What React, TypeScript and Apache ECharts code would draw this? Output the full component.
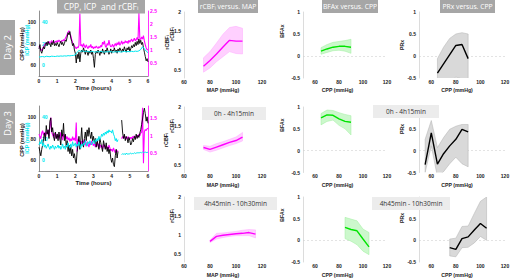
import React, { useEffect, useRef } from 'react';
import * as echarts from 'echarts';

// ---------------- Time series (sampled every 0.05 h) ----------------
const SAMPLE_H = 0.05;
const ICP_DAY2_SAMPLE_H = 0.1;

const cppDay2 = [
  75, 79, 73, 71, 74, 77, 75, 79, 81, 78, 82, 79, 80, 77, 81, 79, 83, 78, 80, 78,
  81, 79, 77, 80, 82, 79, 81, 78, 80, 83, 82, 86, 90, 88, 91, 85, 82, 78, 80, 74,
  71, 62, 70, 66, 72, 63, 71, 74, 72, 76, 73, 70, 74, 72, 69, 73, 71, 74, 70, 72,
  66, 58, 70, 73, 71, 74, 72, 69, 73, 71, 75, 72, 70, 74, 72, 76, 73, 70, 72, 75,
  71, 74, 73, 76, 72, 74, 71, 75, 73, 76, 74, 72, 75, 73, 77, 74, 72, 76, 74, 77,
  73, 75, 78, 76, 79, 77, 81, 78, 82, 79, 84, 80, 83, 79, 81, 76, 72, 68, 64, 66,
  63,
];
const rcbfDay2 = [
  1.15, 1.08, 1.02, 0.98, 1.05, 1.12, 1.18, 1.25, 1.22, 1.30, 1.27, 1.33, 1.25, 1.30, 1.36, 1.28, 1.32, 1.26, 1.34, 1.30,
  1.36, 1.31, 1.38, 1.33, 1.29, 1.37, 1.34, 1.40, 1.35, 1.45, 1.52, 1.60, 1.68, 1.74, 1.62, 1.55, 1.40, 1.28, 1.22, 1.15,
  1.10, 1.05, 1.12, 1.08, 1.18, 2.40, 1.15, 1.22, 1.10, 1.25, 1.15, 1.08, 1.20, 1.12, 1.05, 1.16, 1.10, 1.22, 1.08, 1.14,
  1.05, 1.12, 1.08, 1.15, 1.10, 1.06, 1.13, 1.08, 1.18, 1.12, 1.30, 1.22, 1.35, 1.15, 1.10, 1.25, 1.18, 1.38, 1.20, 1.12,
  1.15, 1.22, 1.10, 1.18, 1.25, 1.15, 1.28, 1.20, 1.32, 1.18, 1.25, 1.35, 1.22, 1.30, 1.26, 1.36, 1.28, 1.34, 1.25, 1.38,
  1.30, 1.36, 1.42, 1.32, 1.38, 1.45, 1.35, 1.40, 1.48, 1.38, 2.42, 1.45, 1.40, 1.50, 1.42, 1.55, 1.35, 1.20, 1.08, 1.02,
  1.0,
];
const icpDay2 = [
  7.5, 7.8, 8.0, 7.6, 8.2, 8.0, 7.8, 8.3, 8.1, 8.0,
  8.4, 8.2, 8.5, 8.3, 8.6, 8.4, 8.8, 8.6, 8.9, 9.0,
  9.5, 12.0, 13.5, 12.8, 13.2, 12.5, 13.0, 12.6, 12.2, 12.8,
  12.4, 12.0, 12.6, 12.2, 12.8, 12.3, 12.0, 12.5, 12.2, 12.7,
  12.3, 12.0, 12.5, 12.2, 12.6, 12.1, 12.4, 12.8, 12.3, 12.6,
  12.4, 12.8, 12.5, 13.0, 12.7, 13.2, 14.5, 17.0, 15.0, 13.0,
  11.5,
];

const cppDay3 = [
  72, 68, 64, 70, 74, 80, 85, 78, 92, 84, 88, 80, 96, 99, 86, 90, 82, 78, 86, 80,
  84, 78, 86, 80, 74, 88, 82, 94, 78, 84, 72, 78, 68, 74, 66, 72, 64, 70, 62, 66,
  60, 57, 68, 74, 82, 70, 78, 90, 76, 72, 80, 86, 78, 88, 82, 90, 84, 80, 86, 78,
  82, 76, 80, 72, 78, 74, 70, 80, 76, 72, 68, 78, 74, 70, 76, 68, 72, 66, 70, 62,
  58, 62, 56, 54, 64, 70, 62, 68, null, null, null, 97, 86, 80, 84, 78, 82, 80, 76, 81,
  78, 74, 76, 80, 77, 82, 79, 84, 80, 83, 81, 85, 88, 93, 98, 104, 108, 103, 96, 100,
  94,
];
const rcbfDay3 = [
  1.05, 0.98, 0.92, 1.08, 1.15, 1.02, 1.10, 0.95, 1.12, 1.05, 1.18, 1.00, 1.25, 1.52, 1.10, 1.04, 0.96, 1.08, 1.00, 0.92,
  1.06, 0.95, 1.02, 0.90, 1.10, 0.98, 0.88, 1.05, 0.96, 1.02, 0.92, 0.98, 0.88, 0.95, 0.84, 0.92, 0.86, 0.98, 0.88, 0.94,
  0.85, 1.38, 0.55, 0.92, 0.80, 0.88, 0.75, 0.85, 0.72, 0.82, 0.90, 0.78, 0.70, 0.84, 0.76, 0.68, 0.82, 0.74, 0.86, 0.78,
  0.72, 0.80, 0.68, 0.76, 0.84, 0.70, 0.78, 0.66, 0.74, 0.70, 0.62, 0.76, 0.68, 0.72, 0.64, 0.70, 0.60, 0.74, 0.66, 0.58,
  0.62, 0.55, 0.66, 0.58, 0.52, 0.60, 0.55, 0.58, null, null, null, 0.92, 0.98, 0.94, 1.00, 0.92, 0.96, 0.90, 0.98, 0.94,
  0.90, 0.96, 0.92, 0.98, 0.95, 1.00, 0.93, 0.97, 1.02, 0.96, 1.05, 1.00, 1.08, 1.10, 1.80, 0.22, 1.12, 1.18, 1.15, 1.20,
  1.22,
];
const icpDay3 = [
  14, 17, 15, 19, 13, 16, 12, 14, 11, 13, 15, 12, 10, 13, 11, 14, 12, 10, 13, 11,
  12, 14, 11, 13, 10, 12, 15, 11, 13, 10, 14, 12, 16, 13, 11, 15, 12, 17, 13, 14,
  16, 12, 15, 13, 17, 14, 11, 15, 13, 16, 14, 18, 15, 13, 17, 15, 18, 16, 14, 17,
  18, 15, 19, 17, 20, 18, 22, 19, 21, 24, 22, 25, 23, 26, 24, 27, 25, 28, 26, 27,
  25, 28, 24, 22, 18, 20, 17, 19, null, null, null, 5, 6, 5.5, 6, 5, 6.5, 5.5, 6, 5.5,
  6, 6.5, 5.8, 6.2, 6, 6.8, 6.2, 6.5, 7, 6.5, 7, 6.8, 7.2, 6.8, 7.5, 7, 7.2, 7.5, 7, 7.2,
  7.2,
];

// ---------------- Relationship curves ----------------
// Row 1 (Day 2)
const mapR1 = [75, 80, 85, 90, 95, 100, 105];
const rcbfR1 = [0.6, 0.75, 0.92, 1.1, 1.27, 1.25, 1.25];
const rcbfR1Hi = [0.82, 0.98, 1.2, 1.43, 1.6, 1.63, 1.58];
const rcbfR1Lo = [0.45, 0.56, 0.72, 0.85, 0.98, 0.93, 0.92];

const cppBfaR1 = [65, 70, 75, 80, 85, 90];
const bfaR1 = [0.11, 0.16, 0.2, 0.22, 0.22, 0.2];
const bfaR1Hi = [0.19, 0.26, 0.31, 0.33, 0.35, 0.38];
const bfaR1Lo = [0.04, 0.08, 0.12, 0.13, 0.11, 0.06];

const cppPrxR1 = [65, 70, 75, 80, 85, 90];
const prxR1 = [-0.39, -0.18, 0.03, 0.24, 0.26, -0.06];
const prxR1Hi = [-0.06, 0.2, 0.4, 0.5, 0.53, 0.5];
const prxR1Lo = [-0.75, -0.7, -0.6, -0.48, -0.52, -0.7];

// Row 2 (Day 3, 0h - 4h15min)
const mapR2 = [75, 80, 85, 90, 95, 100, 105];
const rcbfR2 = [0.95, 0.9, 0.96, 1.02, 1.08, 1.13, 1.22];
const rcbfR2Hi = [1.0, 0.98, 1.05, 1.1, 1.16, 1.22, 1.34];
const rcbfR2Lo = [0.9, 0.83, 0.88, 0.94, 1.0, 1.05, 1.12];

const cppBfaR2 = [65, 70, 75, 80, 85, 90];
const bfaR2 = [0.75, 0.82, 0.81, 0.73, 0.67, 0.65];
const bfaR2Hi = [0.85, 0.93, 0.92, 0.87, 0.83, 0.8];
const bfaR2Lo = [0.59, 0.67, 0.7, 0.58, 0.5, 0.36];

const cppPrxR2 = [55, 60, 65, 70, 75, 80, 85, 90];
const prxR2 = [-0.32, 0.41, -0.31, -0.07, 0.11, 0.26, 0.49, 0.43];
const prxR2Hi = [0.26, 0.69, 0.07, 0.3, 0.49, 0.56, 0.6, 0.6];
const prxR2Lo = [-0.5, 0.11, -0.6, -0.48, -0.3, -0.15, -0.3, -0.37];

// Row 3 (Day 3, 4h45min - 10h30min)
const mapR3 = [80, 85, 90, 95, 100, 105, 110, 115];
const rcbfR3 = [0.84, 0.97, 1.0, 1.02, 1.04, 1.05, 1.07, 1.03];
const rcbfR3Hi = [0.87, 1.05, 1.06, 1.08, 1.1, 1.13, 1.15, 1.14];
const rcbfR3Lo = [0.81, 0.9, 0.94, 0.97, 0.99, 0.99, 0.99, 0.93];

const cppBfaR3 = [85, 90, 95, 100, 105];
const bfaR3 = [0.3, 0.25, 0.22, 0.03, -0.15];
const bfaR3Hi = [0.53, 0.49, 0.45, 0.26, 0.18];
const bfaR3Lo = [0.04, -0.02, -0.1, -0.25, -0.33];

const cppPrxR3 = [75, 80, 85, 90, 95, 100, 105];
const prxR3 = [-0.17, -0.21, 0.04, 0.08, 0.24, 0.39, 0.28];
const prxR3Hi = [0.03, 0.05, 0.32, 0.33, 0.62, 0.9, 1.0];
const prxR3Lo = [-0.36, -0.38, -0.17, -0.16, -0.06, 0.09, 0.0];

// tick labels
const timeTicks = [0, 1, 2, 3, 4, 5, 6];
const cppTicks = [60, 80, 100];
const icpTicks = [0, 20, 40];
const rcbfTicksDay2 = [0.5, 1, 1.5, 2, 2.5];
const rcbfTicksDay3 = [0.5, 1, 1.5];
const mapTicks = [60, 80, 100, 120];
const cppTicksSmall = [60, 80, 100, 120];
const rcbfTicksSmall = [0.5, 1, 1.5, 2];
const indexTicks = [-0.5, 0, 0.5, 1];
const indexTicksCovered = [-0.5, 0, 0.5];

// ---------------- styling ----------------
const AX_FONT = 'Liberation Sans';
const TITLE_FONT = 'Open Sans';
const MAGENTA = '#ff00ff';
const CYAN = '#00e8f0';
const GREEN = '#00e400';
const BOX_GREY = '#a6a6a6';
const LIGHT_BOX = '#ececec';

const tickLabel = (color = '#222', extra: any = {}) => ({
  fontSize: 5,
  fontWeight: 'bold',
  fontFamily: AX_FONT,
  color,
  margin: 2,
  ...extra,
});

function buildOption() {
  const grids: any[] = [
    { left: 39, top: 11, width: 109, height: 65 },
    { left: 39, top: 106, width: 109, height: 65 },
  ];
  const rowTops = [12, 107, 197];
  const rowHeights = [66, 65.5, 65];
  const cols = [
    { left: 184, width: 91 },
    { left: 303, width: 84 },
    { left: 419, width: 86 },
  ];
  rowTops.forEach((t, r) => cols.forEach((c) => grids.push({ left: c.left, width: c.width, top: t, height: rowHeights[r] })));
  grids.forEach((g) => {
    g.containLabel = false;
    g.outerBoundsMode = 'none';
  });

  const xAxis: any[] = [];
  const yAxis: any[] = [];
  const series: any[] = [];

  // time panels
  const timeDefs = [
    { cpp: cppDay2, icp: icpDay2, icpStep: ICP_DAY2_SAMPLE_H, rcbf: rcbfDay2, rMax: 2.5, rTicks: rcbfTicksDay2 },
    { cpp: cppDay3, icp: icpDay3, icpStep: SAMPLE_H, rcbf: rcbfDay3, rMax: 1.85, rTicks: rcbfTicksDay3 },
  ];
  const toPairs = (arr: (number | null)[], step: number) =>
    arr.map((v, i) => [Math.round(i * step * 1000) / 1000, v === null ? '-' : v]);

  timeDefs.forEach((d, g) => {
    xAxis.push({
      gridIndex: g,
      type: 'value',
      min: 0,
      max: 6,
      interval: 1,
      axisLine: { show: true, onZero: false, lineStyle: { color: '#444', width: 0.6 } },
      axisTick: { show: false },
      splitLine: { show: false },
      axisLabel: { ...tickLabel('#222'), customValues: timeTicks },
      name: 'Time (hours)',
      nameLocation: 'middle',
      nameGap: 9,
      nameTextStyle: { fontSize: 6, fontWeight: 'bold', fontFamily: AX_FONT, color: '#222' },
    });
    const base = yAxis.length;
    yAxis.push({
      gridIndex: g,
      type: 'value',
      position: 'left',
      min: 50,
      max: 110,
      axisLine: { show: true, lineStyle: { color: '#444', width: 0.6 } },
      axisTick: { show: false },
      splitLine: { show: false },
      axisLabel: { ...tickLabel('#222', { margin: 3 }), customValues: cppTicks },
    });
    yAxis.push({
      gridIndex: g,
      type: 'value',
      position: 'right',
      min: 0,
      max: d.rMax,
      axisLine: { show: true, lineStyle: { color: MAGENTA, width: 0.8 } },
      axisTick: { show: false },
      splitLine: { show: false },
      axisLabel: { ...tickLabel(MAGENTA, { margin: 2 }), customValues: d.rTicks },
    });
    yAxis.push({
      gridIndex: g,
      type: 'value',
      position: 'left',
      min: -10,
      max: 50,
      axisLine: { show: false },
      axisTick: { show: false },
      splitLine: { show: false },
      axisLabel: { ...tickLabel(CYAN, { margin: 3, inside: true }), customValues: icpTicks },
    });
    series.push({
      type: 'line',
      xAxisIndex: g,
      yAxisIndex: base + 1,
      data: toPairs(d.rcbf, SAMPLE_H),
      symbol: 'none',
      connectNulls: false,
      lineStyle: { color: MAGENTA, width: 1.1 },
      silent: true,
    });
    series.push({
      type: 'line',
      xAxisIndex: g,
      yAxisIndex: base,
      data: toPairs(d.cpp, SAMPLE_H),
      symbol: 'none',
      connectNulls: false,
      lineStyle: { color: '#000', width: 0.9 },
      silent: true,
    });
    series.push({
      type: 'line',
      xAxisIndex: g,
      yAxisIndex: base + 2,
      data: toPairs(d.icp, d.icpStep),
      symbol: 'none',
      connectNulls: false,
      lineStyle: { color: CYAN, width: 1.0 },
      silent: true,
    });
  });

  // relationship panels
  const panels = [
    { xs: mapR1, m: rcbfR1, hi: rcbfR1Hi, lo: rcbfR1Lo, kind: 'rcbf', ticks: rcbfTicksSmall },
    { xs: cppBfaR1, m: bfaR1, hi: bfaR1Hi, lo: bfaR1Lo, kind: 'bfa', ticks: indexTicks },
    { xs: cppPrxR1, m: prxR1, hi: prxR1Hi, lo: prxR1Lo, kind: 'prx', ticks: indexTicks },
    { xs: mapR2, m: rcbfR2, hi: rcbfR2Hi, lo: rcbfR2Lo, kind: 'rcbf', ticks: rcbfTicksSmall },
    { xs: cppBfaR2, m: bfaR2, hi: bfaR2Hi, lo: bfaR2Lo, kind: 'bfa', ticks: indexTicks },
    { xs: cppPrxR2, m: prxR2, hi: prxR2Hi, lo: prxR2Lo, kind: 'prx', ticks: indexTicksCovered },
    { xs: mapR3, m: rcbfR3, hi: rcbfR3Hi, lo: rcbfR3Lo, kind: 'rcbf', ticks: rcbfTicksSmall },
    { xs: cppBfaR3, m: bfaR3, hi: bfaR3Hi, lo: bfaR3Lo, kind: 'bfa', ticks: indexTicks },
    { xs: cppPrxR3, m: prxR3, hi: prxR3Hi, lo: prxR3Lo, kind: 'prx', ticks: indexTicksCovered },
  ];
  const styles: any = {
    rcbf: { line: MAGENTA, fill: '#ffd0ff', edge: '#ffa8ff' },
    bfa: { line: GREEN, fill: '#ccf8cc', edge: '#a0eea0' },
    prx: { line: '#000', fill: '#d9d9d9', edge: '#b0b0b0' },
  };

  panels.forEach((p, k) => {
    const g = k + 2;
    const isR = p.kind === 'rcbf';
    xAxis.push({
      gridIndex: g,
      type: 'value',
      min: isR ? 60 : 50,
      max: isR ? 130 : 120,
      axisLine: { show: false },
      axisTick: { show: false },
      splitLine: { show: false },
      axisLabel: { ...tickLabel('#222', { margin: 1 }), customValues: isR ? mapTicks : cppTicksSmall },
    });
    const yi = yAxis.length;
    yAxis.push({
      gridIndex: g,
      type: 'value',
      min: isR ? 0.3 : -0.5,
      max: isR ? 2 : 1,
      axisLine: { show: true, lineStyle: { color: '#c4c4c4', width: 0.6 } },
      axisTick: { show: false },
      splitLine: { show: false },
      axisLabel: { ...tickLabel('#222', { margin: 3 }), customValues: p.ticks },
    });
    const st = styles[p.kind];
    const xs = p.xs, hi = p.hi, lo = p.lo;
    series.push({
      type: 'custom',
      xAxisIndex: g,
      yAxisIndex: yi,
      clip: true,
      silent: true,
      data: xs.map((x, i) => [x, lo[i], hi[i]]),
      encode: { x: 0, y: [1, 2] },
      renderItem: (params: any, api: any) => {
        if (params.dataIndex !== 0) return null;
        const pts: number[][] = [];
        for (let i = 0; i < xs.length; i++) pts.push(api.coord([xs[i], hi[i]]));
        for (let i = xs.length - 1; i >= 0; i--) pts.push(api.coord([xs[i], lo[i]]));
        return {
          type: 'polygon',
          shape: { points: pts },
          style: { fill: st.fill, stroke: st.edge, lineWidth: 0.5 },
        };
      },
    });
    const line: any = {
      type: 'line',
      xAxisIndex: g,
      yAxisIndex: yi,
      data: xs.map((x, i) => [x, p.m[i]]),
      symbol: 'none',
      silent: true,
      lineStyle: { color: st.line, width: 1.4 },
      z: 5,
    };
    if (!isR) {
      line.markLine = {
        silent: true,
        symbol: 'none',
        label: { show: false },
        lineStyle: { type: [2, 2], color: '#d0d0d0', width: 0.6 },
        data: [{ yAxis: 0 }],
        z: 1,
      };
    }
    series.push(line);
  });

  // ---------------- graphics (boxes, labels) ----------------
  const white = '#ffffff';
  const graphic: any[] = [];
  const rect = (x: number, y: number, w: number, h: number, fill: string) =>
    graphic.push({ type: 'rect', z: 100, shape: { x, y, width: w, height: h }, style: { fill } });
  const text = (x: number, y: number, t: string, size: number, fill: string, opts: any = {}) =>
    graphic.push({
      type: 'text',
      z: 101,
      x,
      y,
      rotation: opts.rotation || 0,
      style: {
        text: t,
        fontSize: size,
        fontFamily: opts.font || TITLE_FONT,
        fontWeight: opts.weight || 'normal',
        fill,
        align: 'center',
        verticalAlign: 'middle',
        textAlign: 'center',
        textVerticalAlign: 'middle',
        rich: opts.rich,
      },
    });
  const subRich = (size: number, fill: string, font: string, weight = 'normal') => ({
    a: { fontSize: size, fill, color: fill, fontFamily: font, fontWeight: weight },
    s: { fontSize: size * 0.65, fill, color: fill, fontFamily: font, fontWeight: weight, verticalAlign: 'bottom', padding: [size * 0.35, 0, 0, 0] },
  });

  // Day boxes
  rect(0, 20, 15, 55, BOX_GREY);
  text(7.5, 47.5, 'Day 2', 9.5, white, { rotation: Math.PI / 2 });
  rect(0, 103, 15, 41, BOX_GREY);
  text(7.5, 123.5, 'Day 3', 9.5, white, { rotation: Math.PI / 2 });

  // titles
  rect(57, 0, 88, 13.5, BOX_GREY);
  text(101, 6.5, '{a|CPP, ICP  and rCBF}{s|i}', 8.5, white, { rich: subRich(8.5, white, TITLE_FONT) });
  rect(198, 0, 60, 13, BOX_GREY);
  text(228, 6.5, '{a|rCBF}{s|i}{a| versus. MAP}', 6.8, white, { rich: subRich(6.8, white, TITLE_FONT) });
  rect(322, 0, 56, 13, BOX_GREY);
  text(350, 6.5, 'BFAx versus. CPP', 6.8, white);
  rect(440, 0, 55, 13, BOX_GREY);
  text(467.5, 6.5, 'PRx versus. CPP', 6.8, white);

  // period boxes
  rect(202, 107, 64, 13, LIGHT_BOX);
  text(234, 113.5, '0h - 4h15min', 6.5, '#333');
  rect(373, 105, 66, 13, LIGHT_BOX);
  text(406, 111.5, '0h - 4h15min', 6.5, '#333');
  rect(194, 197, 83, 13, LIGHT_BOX);
  text(235.5, 203.5, '4h45min - 10h30min', 6.5, '#333');
  rect(372, 197, 78, 13, LIGHT_BOX);
  text(411, 203.5, '4h45min - 10h30min', 6.5, '#333');

  // time-panel axis titles
  const ax = { font: AX_FONT, weight: 'bold' };
  text(21.5, 44, 'CPP (mmHg)', 5.5, '#222', { ...ax, rotation: Math.PI / 2 });
  text(27, 40, 'ICP (mmHg)', 5.5, CYAN, { ...ax, rotation: Math.PI / 2 });
  text(21.5, 140, 'CPP (mmHg)', 5.5, '#222', { ...ax, rotation: Math.PI / 2 });
  text(27, 138, 'ICP (mmHg)', 5.5, CYAN, { ...ax, rotation: Math.PI / 2 });
  text(166.5, 42.5, '{a|rCBF}{s|i}', 5.5, '#222', { ...ax, rotation: Math.PI / 2, rich: subRich(5.5, '#222', AX_FONT, 'bold') });
  text(165.5, 140, '{a|rCBF}{s|i}', 5.5, '#222', { ...ax, rotation: Math.PI / 2, rich: subRich(5.5, '#222', AX_FONT, 'bold') });

  // small-panel axis titles
  const rowX = [90, 185, 275];
  const rcbfY = [34, 126, 216];
  const bfaY = [31, 125, 215];
  const prxY = [45, 129, 218];
  rowX.forEach((y, r) => {
    text(223, y, 'MAP (mmHg)', 5.2, '#222', ax);
    text(337.5, y, 'CPP (mmHg)', 5.2, '#222', ax);
    text(457, y, 'CPP (mmHg)', 5.2, '#222', ax);
    text(172, rcbfY[r], '{a|rCBF}{s|i}', 5.2, '#222', { ...ax, rotation: Math.PI / 2, rich: subRich(5.2, '#222', AX_FONT, 'bold') });
    text(282, bfaY[r], 'BFAx', 5.2, '#222', { ...ax, rotation: Math.PI / 2 });
    text(401.5, prxY[r], 'PRx', 5.2, '#222', { ...ax, rotation: Math.PI / 2 });
  });

  return {
    animation: false,
    backgroundColor: '#ffffff',
    grid: grids,
    xAxis,
    yAxis,
    series,
    graphic: { elements: graphic },
  };
}

export default function App() {
  const ref = useRef<HTMLDivElement>(null);
  useEffect(() => {
    if (!ref.current) return;
    const chart = echarts.init(ref.current, null, { renderer: 'svg' });
    chart.setOption(buildOption() as any);
    return () => chart.dispose();
  }, []);
  return (
    <div
      ref={ref}
      style={{ position: 'fixed', left: 0, top: 0, width: 510, height: 279, background: '#ffffff' }}
    />
  );
}
